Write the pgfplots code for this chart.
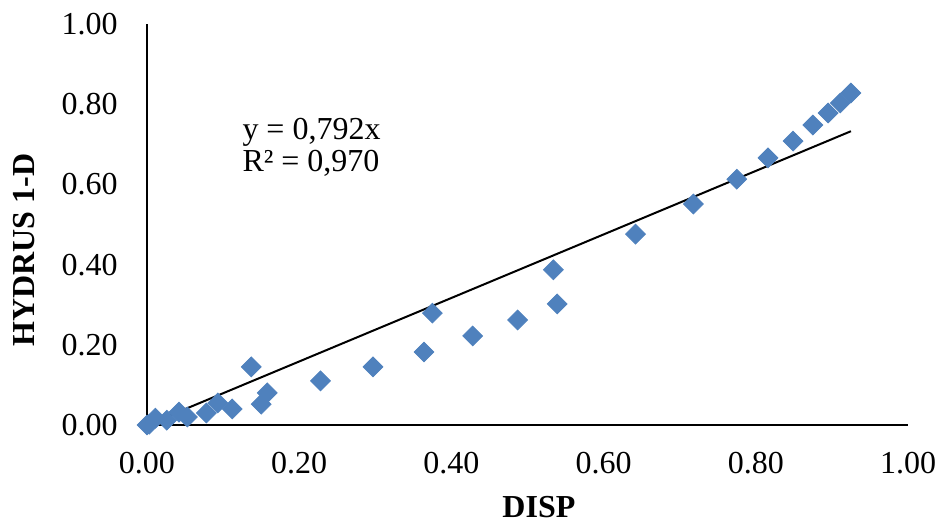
\documentclass[border=0pt]{standalone}
\usepackage{pgfplots}
\pgfplotsset{compat=1.18}
\usepackage{fontspec}
\setmainfont{Liberation Serif}
\definecolor{ptblue}{HTML}{4F81BD}
\begin{document}
\begin{tikzpicture}
\path[use as bounding box] (-73.5bp,-50bp) rectangle (398bp,212.5bp);
\begin{axis}[
  at={(0,0)}, anchor=south west,
  scale only axis, width=380.5bp, height=200.5bp,
  xmin=0, xmax=1, ymin=0, ymax=1,
  axis x line=bottom, axis y line=left,
  axis line style={-, black, line width=0.8bp},
  xtick={0,0.2,0.4,0.6,0.8,1}, ytick={0,0.2,0.4,0.6,0.8,1},
  major tick length=0pt,
  /pgf/number format/.cd, fixed, fixed zerofill, precision=2, assume math mode=true,
  /pgfplots/.cd,
  tick label style={font=\fontsize{16bp}{19bp}\selectfont, inner sep=0pt},
  yticklabel style={anchor=east, xshift=-14.5bp},
  xticklabel style={anchor=north, yshift=-13.5bp},
  xlabel={\textbf{DISP}},
  ylabel={\textbf{HYDRUS 1-D}},
  label style={font=\fontsize{16bp}{19bp}\selectfont, inner sep=0pt},
  xlabel style={at={(axis description cs:0.515,0)}, anchor=base, yshift=-46bp},
  ylabel style={at={(axis description cs:-0.1472,0.436)}, anchor=base},
  clip=false,
]
\addplot[only marks, mark=square*, mark size=3.5bp, mark options={rotate=45, fill=ptblue, draw=ptblue}] coordinates {
(0,0) (0.003,0.002) (0.011,0.017) (0.026,0.012) (0.042,0.032) (0.053,0.02)
(0.078,0.03) (0.093,0.055) (0.112,0.04) (0.137,0.145) (0.150,0.052) (0.158,0.08)
(0.228,0.11) (0.297,0.145) (0.364,0.182) (0.375,0.279) (0.428,0.222) (0.487,0.262)
(0.534,0.387) (0.539,0.302) (0.642,0.476) (0.718,0.551) (0.775,0.613) (0.816,0.666)
(0.849,0.708) (0.875,0.748) (0.895,0.778) (0.911,0.803) (0.925,0.828)
};
\addplot[black, line width=1bp, no marks] coordinates {(0,0) (0.925,0.7326)};
\node[anchor=base west, inner sep=0pt, font=\fontsize{16bp}{19bp}\selectfont] at (axis cs:0.125,0.713) {y = 0,792x};
\node[anchor=base west, inner sep=0pt, font=\fontsize{16bp}{19bp}\selectfont] at (axis cs:0.125,0.633) {R² = 0,970};
\end{axis}
\end{tikzpicture}
\end{document}
